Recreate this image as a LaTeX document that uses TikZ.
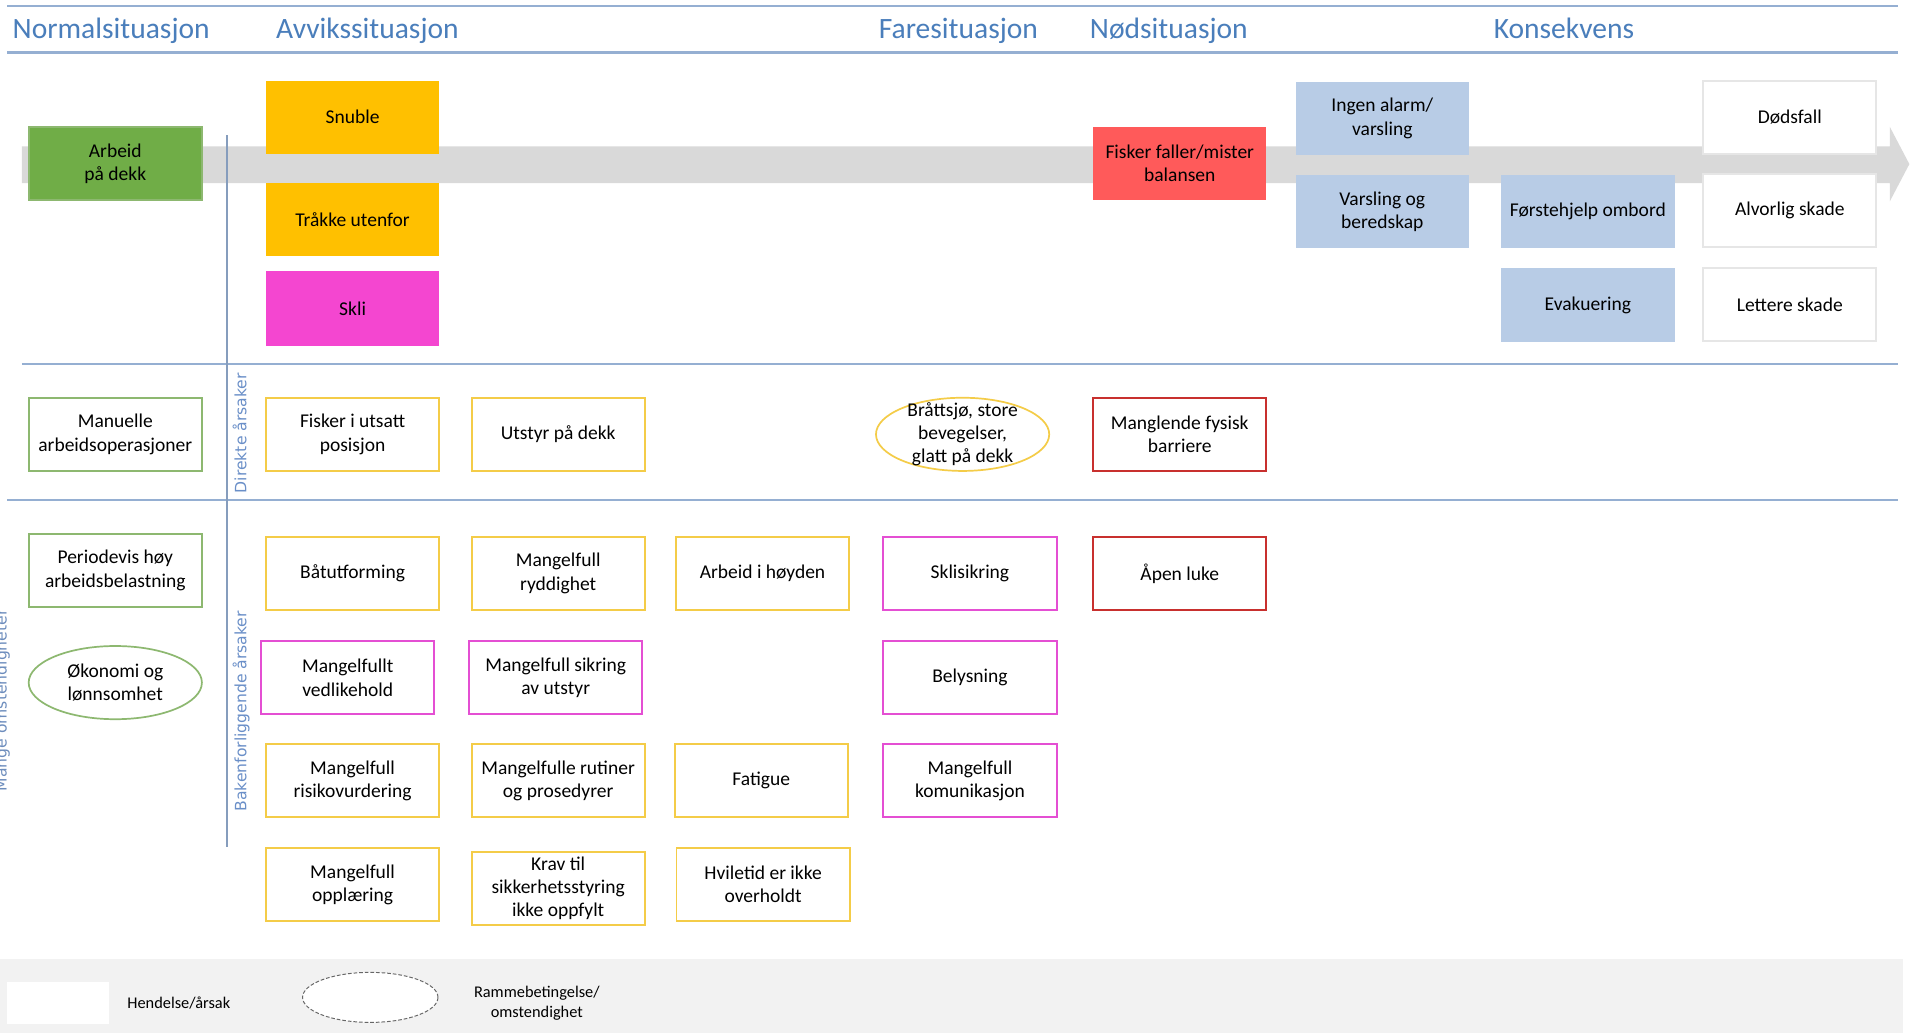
\documentclass[tikz,border=0pt]{standalone}
\usepackage{fontspec}
\setmainfont{Carlito}
\newfontfamily\dejavu{DejaVu Sans}
\usetikzlibrary{shapes.geometric}

\definecolor{fasetekst}{HTML}{4A7EBB}
\definecolor{linjeblaa}{HTML}{95AFD2}
\definecolor{aarsaktekst}{HTML}{6A8FC8}
\definecolor{gronn}{HTML}{70AD47}
\definecolor{gronnkant}{HTML}{8DB870}
\definecolor{oransje}{HTML}{FFC000}
\definecolor{rosa}{HTML}{F446D0}
\definecolor{rod}{HTML}{FF5A5A}
\definecolor{blaa}{HTML}{B8CCE6}
\definecolor{gulkant}{HTML}{F4CC48}
\definecolor{rosakant}{HTML}{E44FD3}
\definecolor{rodkant}{HTML}{C8302E}
\definecolor{lysgra}{HTML}{E6E6E6}
\definecolor{pil}{HTML}{D9D9D9}
\definecolor{bunn}{HTML}{F2F2F2}

\begin{document}
\begin{tikzpicture}
[x=0.5pt, y=-0.5pt,
hendelse/.style={rectangle, line width=0.8pt, minimum width=71pt, minimum height=30pt,
                 inner sep=1pt, align=center, font=\fontsize{8}{9.5}\selectfont},
ramme/.style={ellipse, line width=0.7pt, minimum width=71pt, minimum height=30pt,
              inner sep=0pt, align=center, font=\fontsize{8}{9.5}\selectfont},
fase/.style={anchor=base west, inner sep=0pt, text=fasetekst, font=\fontsize{12.1}{14}\selectfont},
aarsak/.style={anchor=base, inner sep=0pt, rotate=90, text=aarsaktekst, font=\dejavu\fontsize{6.4}{7.5}\selectfont},
skille/.style={draw=linjeblaa, line width=0.9pt},
forklaring/.style={inner sep=0pt, align=center, font=\fontsize{6.7}{8.2}\selectfont}
]
\fill[white] (0,0) rectangle (1568,847);
\useasboundingbox (0,0) rectangle (1568,847);
%\draw[red] (0,0) rectangle (1568,847);

% overskrifter
\draw[skille, line width=1pt] (6,5) -- (1556,5);
\draw[skille, line width=1pt] (6,43) -- (1556,43);
\node[fase] (normal) at (10,31.5) {Normalsituasjon};
\node[fase] (avvik) at (226,31.5) {Avvikssituasjon};
\node[fase] (fare) at (720,31.5) {Faresituasjon};
\node[fase] (nod) at (893,31.5) {Nødsituasjon};
\node[fase] (konsekvens) at (1224,31.5) {Konsekvens};

% tidslinje
\fill[pil] (18,120) -- (1549,120) -- (1549,104) -- (1565,134.5) -- (1549,165)
    -- (1549,150) -- (18,150) -- cycle;

\draw[skille] (18,298.5) -- (1556,298.5);
\draw[skille] (6,410) -- (1556,410);
\draw[draw=linjeblaa!90!black, line width=0.6pt] (186,111) -- (186,694);

\node[aarsak] (direkte) at (202,355) {Direkte årsaker};
\node[aarsak] (bakenfor) at (202,583) {Bakenforliggende årsaker};
\node[aarsak, text=aarsaktekst!85!gray] (mange) at (5.5,574) {Mange omstendigheter};

% hendelsesforloep
\node[hendelse, fill=gronn, draw=gronnkant] (arbeid) at (94.5,134) {Arbeid\\på dekk};
\node[hendelse, fill=oransje] (snuble) at (289,96) {Snuble};
\node[hendelse, fill=oransje] (trakke) at (289,180) {Tråkke utenfor};
\node[hendelse, fill=rosa, minimum height=31pt] (skli) at (289,253) {Skli};
\node[hendelse, fill=rod] (faller) at (967,134) {Fisker faller/mister\\balansen};
\node[hendelse, fill=blaa] (alarm) at (1133,97) {Ingen alarm/\\varsling};
\node[hendelse, fill=blaa] (varsling) at (1133,173.5) {Varsling og\\beredskap};
\node[hendelse, fill=blaa] (forstehjelp) at (1301.5,173.5) {Førstehjelp ombord};
\node[hendelse, fill=blaa] (evakuering) at (1301.5,250) {Evakuering};
\node[hendelse, fill=white, draw=lysgra] (dodsfall) at (1467,96) {Dødsfall};
\node[hendelse, fill=white, draw=lysgra] (alvorlig) at (1467,172.5) {Alvorlig skade};
\node[hendelse, fill=white, draw=lysgra] (lettere) at (1467,249.5) {Lettere skade};

% direkte aarsaker
\node[hendelse, draw=gronnkant] (manuelle) at (94.5,356) {Manuelle\\arbeidsoperasjoner};
\node[hendelse, draw=gulkant] (utsatt) at (289,356) {Fisker i utsatt\\posisjon};
\node[hendelse, draw=gulkant] (utstyr) at (457.5,356) {Utstyr på dekk};
\node[ramme, draw=gulkant,
      label={[font=\fontsize{8}{9.5}\selectfont, align=center]center:Bråttsjø, store\\bevegelser,\\glatt på dekk}]
      (brattsjo) at (789,356) {};
\node[hendelse, draw=rodkant] (barriere) at (967,356) {Manglende fysisk\\barriere};

% bakenforliggende aarsaker
\node[hendelse, draw=gronnkant] (periodevis) at (94.5,467.5) {Periodevis høy\\arbeidsbelastning};
\node[hendelse, draw=gulkant] (batutforming) at (289,470) {Båtutforming};
\node[hendelse, draw=gulkant] (ryddighet) at (457.5,470) {Mangelfull\\ryddighet};
\node[hendelse, draw=gulkant] (hoyden) at (625,470) {Arbeid i høyden};
\node[hendelse, draw=rosakant] (sklisikring) at (795,470) {Sklisikring};
\node[hendelse, draw=rodkant] (luke) at (967,470) {Åpen luke};

\node[ramme, draw=gronnkant] (okonomi) at (94.5,559.5) {Økonomi og\\lønnsomhet};
\node[hendelse, draw=rosakant] (vedlikehold) at (285,555.5) {Mangelfullt\\vedlikehold};
\node[hendelse, draw=rosakant] (sikring) at (455.5,555.5) {Mangelfull sikring\\av utstyr};
\node[hendelse, draw=rosakant] (belysning) at (795,555.5) {Belysning};

\node[hendelse, draw=gulkant] (risiko) at (289,640) {Mangelfull\\risikovurdering};
\node[hendelse, draw=gulkant] (rutiner) at (457.5,640) {Mangelfulle rutiner\\og prosedyrer};
\node[hendelse, draw=gulkant] (fatigue) at (624,640) {Fatigue};
\node[hendelse, draw=rosakant] (kommunikasjon) at (795,640) {Mangelfull\\komunikasjon};

\node[hendelse, draw=gulkant] (opplaring) at (289,725) {Mangelfull\\opplæring};
\node[hendelse, draw=gulkant] (krav) at (457.5,728) {Krav til\\sikkerhetsstyring\\ikke oppfylt};
\node[hendelse, draw=gulkant] (hviletid) at (625.5,725) {Hviletid er ikke\\overholdt};

% tegnforklaring
\fill[bunn] (0,786) rectangle (1560,847);
\node[fill=white, minimum width=41.5pt, minimum height=17pt, inner sep=0pt] (tegn hendelse) at (47.5,822) {};
\node[forklaring, anchor=west] (tekst hendelse) at (104,822) {Hendelse/årsak};
\node[ellipse, fill=white, draw=gray!80!black, line width=0.4pt, dash pattern=on 1.5pt off 0.8pt,
      minimum width=55.5pt, minimum height=20.5pt, inner sep=0pt] (tegn ramme) at (303.5,817.5) {};
\node[forklaring] (tekst ramme) at (440,822) {Rammebetingelse/\\omstendighet};
\end{tikzpicture}
\end{document}
